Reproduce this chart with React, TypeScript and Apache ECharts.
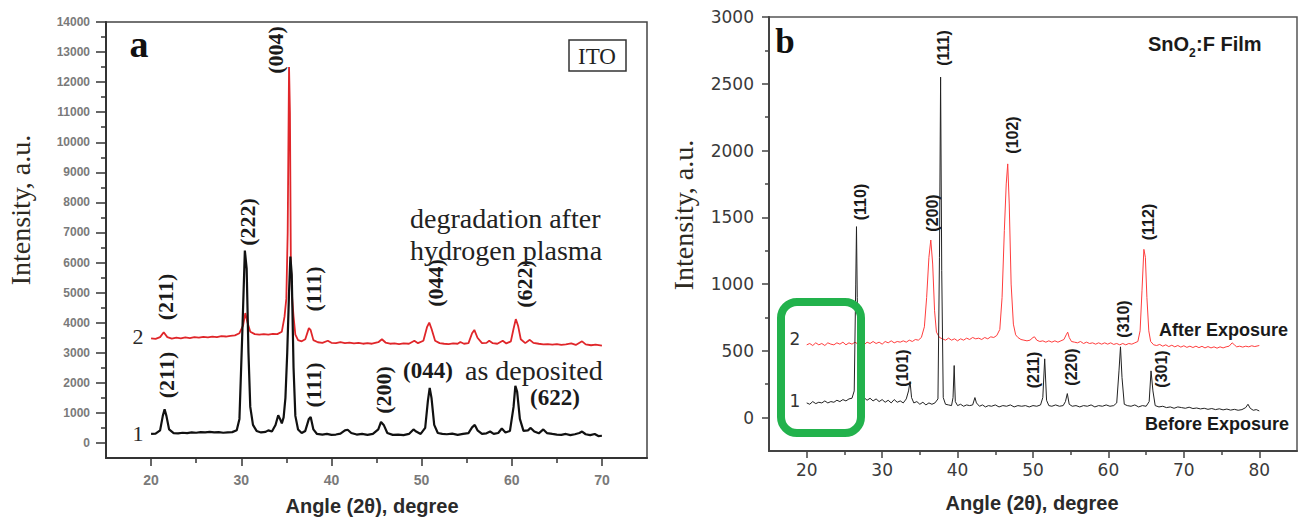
import React, { useEffect, useRef } from "react";
import * as echarts from "echarts";

// ---------- Panel a: ITO ----------
const itoAsDeposited: [number, number][] = [
  [20, 300], [20.5, 310], [21, 420], [21.3, 900], [21.5, 1120], [21.7, 900], [22, 450], [22.5, 330],
  [23, 320], [23.5, 340], [24, 330], [24.5, 350], [25, 340], [25.5, 360], [26, 350], [26.5, 370],
  [27, 350], [27.5, 360], [28, 340], [28.5, 350], [29, 360], [29.5, 420], [29.8, 800], [30.1, 3500],
  [30.4, 6400], [30.6, 5800], [30.8, 3000], [31, 1200], [31.3, 600], [31.7, 400], [32.2, 350], [32.7, 370],
  [33, 420], [33.4, 380], [33.8, 600], [34.1, 920], [34.3, 800], [34.5, 650], [34.7, 850], [34.9, 1500],
  [35.1, 3000], [35.3, 5000], [35.45, 6200], [35.6, 5600], [35.8, 2500], [36, 900], [36.3, 450], [36.7, 330],
  [37.1, 400], [37.5, 800], [37.7, 860], [38, 450], [38.4, 300], [39, 280], [39.5, 300], [40, 270],
  [40.5, 280], [41, 310], [41.5, 420], [41.8, 440], [42.2, 330], [42.8, 280], [43.4, 300], [44, 270],
  [44.6, 300], [45.2, 450], [45.5, 700], [45.8, 600], [46.2, 330], [46.8, 270], [47.4, 280], [48, 260],
  [48.6, 300], [49.1, 450], [49.4, 380], [49.9, 300], [50.4, 500], [50.7, 1400], [50.9, 1830], [51.1, 1500],
  [51.4, 600], [51.8, 330], [52.3, 300], [52.8, 290], [53.4, 310], [54, 270], [54.6, 300], [55.2, 330],
  [55.6, 520], [55.9, 600], [56.2, 420], [56.7, 300], [57.2, 320], [57.6, 380], [58, 300], [58.5, 330],
  [58.9, 480], [59.3, 350], [59.8, 400], [60.2, 1200], [60.4, 1900], [60.6, 1700], [60.9, 800], [61.3, 400],
  [61.8, 420], [62.1, 500], [62.5, 380], [63, 320], [63.5, 450], [63.9, 330], [64.5, 300], [65, 280],
  [65.5, 270], [66, 300], [66.5, 260], [67, 290], [67.5, 330], [67.8, 380], [68.2, 290], [68.7, 260],
  [69.2, 300], [69.6, 230], [70, 240],
];

const itoAfterPlasma: [number, number][] = [
  [20, 3480], [20.5, 3460], [21, 3520], [21.4, 3680], [21.8, 3520], [22.3, 3470], [22.8, 3500], [23.3, 3480],
  [23.8, 3510], [24.3, 3490], [24.8, 3520], [25.3, 3500], [25.8, 3530], [26.3, 3510], [26.8, 3540], [27.3, 3520],
  [27.8, 3550], [28.3, 3540], [28.8, 3560], [29.3, 3580], [29.8, 3650], [30.2, 3900], [30.45, 4320], [30.7, 4000],
  [31, 3700], [31.5, 3620], [32, 3600], [32.5, 3620], [33, 3600], [33.5, 3630], [34, 3620], [34.5, 3700],
  [34.8, 4200], [35, 4800], [35.15, 7000], [35.3, 12500], [35.4, 11000], [35.5, 6000], [35.65, 4800], [35.8, 4200],
  [36, 3600], [36.3, 3420], [36.7, 3380], [37.1, 3450], [37.5, 3820], [37.7, 3750], [38, 3420], [38.5, 3350],
  [39, 3330], [39.6, 3400], [40, 3330], [40.5, 3320], [41, 3350], [41.5, 3320], [42, 3340], [42.5, 3310],
  [43, 3330], [43.5, 3300], [44, 3320], [44.5, 3300], [45.2, 3350], [45.6, 3450], [46, 3340], [46.5, 3300],
  [47, 3310], [47.5, 3290], [48, 3310], [48.6, 3300], [49.2, 3400], [49.6, 3320], [50.2, 3400], [50.6, 3850],
  [50.85, 4000], [51.1, 3800], [51.5, 3400], [52, 3320], [52.5, 3300], [53, 3290], [53.5, 3310], [54, 3300],
  [54.3, 3360], [54.7, 3300], [55.2, 3320], [55.6, 3650], [55.85, 3760], [56.2, 3500], [56.7, 3320], [57.2, 3330],
  [57.5, 3400], [57.9, 3320], [58.4, 3300], [59, 3400], [59.4, 3310], [59.9, 3380], [60.2, 3800], [60.45, 4120],
  [60.7, 3900], [61, 3450], [61.5, 3320], [62, 3430], [62.4, 3330], [63, 3300], [63.5, 3280], [64, 3290],
  [64.5, 3270], [65, 3290], [65.5, 3260], [66, 3280], [66.6, 3310], [67.1, 3260], [67.8, 3380], [68.2, 3280],
  [68.8, 3250], [69.3, 3270], [70, 3240],
];

const itoXLabels = [20, 30, 40, 50, 60, 70];
const itoXMinor = [25, 35, 45, 55, 65];
const itoYLabels = [0, 1000, 2000, 3000, 4000, 5000, 6000, 7000, 8000, 9000, 10000, 11000, 12000, 13000, 14000];
const itoYMinor = [500, 1500, 2500, 3500, 4500, 5500, 6500, 7500, 8500, 9500, 10500, 11500, 12500, 13500];

// ---------- Panel b: SnO2:F ----------
const ftoBeforeExposure: [number, number][] = [
  [20, 110], [20.4, 100], [20.8, 120], [21.2, 105], [21.6, 115], [22, 110], [22.4, 125], [22.8, 110],
  [23.2, 120], [23.6, 115], [24, 130], [24.4, 120], [24.8, 135], [25.2, 125], [25.6, 140], [26, 145],
  [26.3, 200], [26.5, 1000], [26.6, 1430], [26.7, 900], [26.9, 200], [27.2, 140], [27.6, 150], [28, 130],
  [28.4, 145], [28.8, 125], [29.2, 140], [29.6, 120], [30, 135], [30.4, 115], [30.8, 130], [31.2, 110],
  [31.6, 135], [32, 115], [32.4, 125], [32.8, 110], [33.2, 140], [33.5, 200], [33.7, 270], [33.9, 150],
  [34.2, 110], [34.6, 120], [35, 100], [35.4, 115], [35.8, 95], [36.2, 110], [36.6, 100], [37, 110],
  [37.4, 140], [37.6, 1200], [37.75, 2550], [37.9, 1100], [38.1, 150], [38.4, 100], [38.8, 95], [39.2, 90],
  [39.4, 150], [39.55, 390], [39.7, 120], [40, 90], [40.4, 100], [40.8, 85], [41.2, 95], [41.6, 90],
  [42, 95], [42.3, 150], [42.5, 110], [42.9, 85], [43.3, 95], [43.7, 80], [44.1, 90], [44.5, 85],
  [45, 95], [45.5, 80], [46, 90], [46.5, 85], [47, 95], [47.5, 80], [48, 90], [48.5, 85],
  [49, 90], [49.5, 80], [50, 90], [50.5, 85], [51, 95], [51.3, 150], [51.55, 440], [51.8, 130],
  [52.1, 90], [52.5, 85], [53, 95], [53.5, 85], [54, 90], [54.3, 120], [54.55, 180], [54.8, 100],
  [55.2, 85], [55.7, 90], [56.2, 80], [56.7, 90], [57.2, 85], [57.7, 95], [58.2, 80], [58.7, 90],
  [59.2, 85], [59.7, 95], [60.2, 85], [60.7, 90], [61.1, 110], [61.4, 350], [61.6, 530], [61.8, 300],
  [62.1, 100], [62.5, 90], [63, 85], [63.5, 95], [64, 80], [64.5, 90], [65, 85], [65.4, 120],
  [65.65, 350], [65.9, 200], [66.2, 90], [66.7, 80], [67.2, 85], [67.7, 75], [68.2, 80], [68.7, 70],
  [69.2, 80], [69.7, 75], [70.2, 70], [70.7, 78], [71.2, 68], [71.7, 72], [72.2, 65], [72.7, 70],
  [73.2, 62], [73.7, 68], [74.2, 60], [74.7, 66], [75.2, 58], [75.7, 64], [76.2, 56], [76.7, 62],
  [77.2, 55], [77.7, 60], [78.2, 75], [78.5, 100], [78.8, 70], [79.2, 55], [79.6, 60], [80, 50],
];

const ftoAfterExposure: [number, number][] = [
  [20, 545], [20.4, 555], [20.8, 540], [21.2, 560], [21.6, 545], [22, 555], [22.4, 540], [22.8, 560],
  [23.2, 550], [23.6, 545], [24, 560], [24.4, 550], [24.8, 565], [25.2, 545], [25.6, 560], [26, 550],
  [26.4, 565], [26.8, 550], [27.2, 560], [27.6, 545], [28, 565], [28.4, 555], [28.8, 570], [29.2, 555],
  [29.6, 565], [30, 550], [30.4, 570], [30.8, 560], [31.2, 575], [31.6, 560], [32, 570], [32.4, 565],
  [32.8, 575], [33.2, 565], [33.6, 580], [34, 570], [34.4, 585], [34.8, 580], [35.2, 600], [35.6, 680],
  [35.9, 900], [36.2, 1200], [36.45, 1330], [36.7, 1150], [36.95, 800], [37.2, 640], [37.6, 600], [38, 590],
  [38.4, 580], [38.8, 595], [39.2, 580], [39.6, 590], [40, 575], [40.4, 590], [40.8, 580], [41.2, 595],
  [41.6, 585], [42, 600], [42.4, 590], [42.8, 595], [43.2, 585], [43.6, 600], [44, 590], [44.4, 605],
  [44.8, 600], [45.2, 615], [45.6, 660], [45.9, 900], [46.2, 1400], [46.45, 1750], [46.65, 1900], [46.85, 1600],
  [47.1, 1000], [47.4, 700], [47.7, 620], [48, 600], [48.4, 585], [48.8, 580], [49.2, 575], [49.6, 580],
  [50, 600], [50.2, 605], [50.5, 580], [50.9, 570], [51.3, 575], [51.7, 565], [52.1, 575], [52.5, 565],
  [52.9, 575], [53.3, 565], [53.7, 575], [54.1, 585], [54.4, 620], [54.6, 640], [54.8, 600], [55.1, 570],
  [55.5, 565], [55.9, 560], [56.3, 570], [56.7, 555], [57.1, 565], [57.5, 555], [57.9, 560], [58.3, 550],
  [58.7, 560], [59.1, 550], [59.5, 560], [59.9, 550], [60.3, 560], [60.7, 548], [61.1, 555], [61.5, 545],
  [61.9, 555], [62.3, 545], [62.7, 555], [63.1, 550], [63.5, 560], [63.9, 570], [64.2, 650], [64.45, 950],
  [64.7, 1260], [64.9, 1200], [65.1, 900], [65.35, 650], [65.6, 570], [66, 545], [66.4, 540], [66.8, 548],
  [67.2, 535], [67.6, 545], [68, 532], [68.4, 542], [68.8, 530], [69.2, 540], [69.6, 528], [70, 538],
  [70.4, 526], [70.8, 535], [71.2, 525], [71.6, 535], [72, 524], [72.4, 534], [72.8, 522], [73.2, 532],
  [73.6, 522], [74, 530], [74.4, 520], [74.8, 530], [75.2, 522], [75.6, 530], [76, 535], [76.4, 560],
  [76.7, 545], [77, 530], [77.4, 535], [77.8, 528], [78.2, 535], [78.6, 530], [79, 538], [79.4, 532], [80, 540],
];

const ftoXLabels = [20, 30, 40, 50, 60, 70, 80];
const ftoXMinor = [25, 35, 45, 55, 65, 75];
const ftoYLabels = [0, 500, 1000, 1500, 2000, 2500, 3000];
const ftoYMinor = [250, 750, 1250, 1750, 2250, 2750];

const SERIF = '"Liberation Serif", "Times New Roman", serif';
const SANS = '"Liberation Sans", Arial, sans-serif';
const DEJA = '"DejaVu Sans", sans-serif';

function txt(x: number, y: number, text: string, font: string, fill: string, align = "center", rot = 0): any {
  return {
    type: "text",
    x,
    y,
    rotation: rot,
    z: 100,
    silent: true,
    style: {
      text,
      x: 0,
      y: 0,
      font,
      fill,
      align,
      verticalAlign: "middle",
      textAlign: align,
      textVerticalAlign: "middle",
    },
  };
}

const R = Math.PI / 2;
const plain = (v: number) => String(v);

function axisPair(gridIndex: number, min: number, max: number, interval: number, major: number[], minor: number[], labelCfg: any, majorLen: number, minorLen: number, isX: boolean, lineColor: string) {
  const pos = isX ? "bottom" : "left";
  return [
    {
      type: "value",
      gridIndex,
      min,
      max,
      interval,
      position: pos,
      axisLine: { show: true, onZero: false, lineStyle: { color: lineColor, width: 2 } },
      axisTick: { show: true, inside: false, length: majorLen, customValues: major, lineStyle: { color: lineColor, width: 1.5 } },
      axisLabel: { show: true, customValues: major, formatter: plain, ...labelCfg },
      splitLine: { show: false },
      minorTick: { show: false },
    },
    {
      type: "value",
      gridIndex,
      min,
      max,
      interval,
      position: pos,
      axisLine: { show: false, onZero: false },
      axisTick: { show: true, inside: false, length: minorLen, customValues: minor, lineStyle: { color: lineColor, width: 1.5 } },
      axisLabel: { show: false },
      splitLine: { show: false },
    },
  ];
}

export default function App() {
  const ref = useRef<HTMLDivElement>(null);
  useEffect(() => {
    if (!ref.current) return;
    const chart = echarts.init(ref.current, null, { renderer: "svg" });

    const leftTickLabel = { fontSize: 12, fontWeight: "bold", color: "#7a7a7a", fontFamily: SANS };
    const leftXTickLabel = { fontSize: 14, fontWeight: "bold", color: "#7a7a7a", fontFamily: SANS, margin: 15 };
    const rightTickLabel = { fontSize: 17, color: "#3a3a3a", fontFamily: DEJA };

    const xAxes = [
      ...axisPair(0, 15, 75, 5, itoXLabels, itoXMinor, leftXTickLabel, 8, 5, true, "#333"),
      ...axisPair(1, 15, 85, 5, ftoXLabels, ftoXMinor, { ...rightTickLabel, margin: 10 }, 7, 4, true, "#444"),
    ];
    const yAxes = [
      ...axisPair(0, -500, 14000, 500, itoYLabels, itoYMinor, { ...leftTickLabel, margin: 16 }, 10, 5, false, "#333"),
      ...axisPair(1, -250, 3000, 250, ftoYLabels, ftoYMinor, { ...rightTickLabel, margin: 15 }, 7, 4, false, "#444"),
    ];

    const graphic: any[] = [
      // Panel a annotations
      txt(139, 44, "a", `bold 38px ${SERIF}`, "#111"),
      {
        type: "rect",
        z: 100,
        silent: true,
        shape: { x: 569, y: 40, width: 57, height: 31 },
        style: { fill: "#fff", stroke: "#333", lineWidth: 1.5 },
      },
      txt(597, 56, "ITO", `23px ${SERIF}`, "#222"),
      txt(20, 210, "Intensity, a.u.", `28px ${SERIF}`, "#2e2a22", "center", R),
      txt(372, 506, "Angle (2θ), degree", `bold 20px ${SANS}`, "#2a2a2a"),
      txt(165, 297, "(211)", `bold 22px ${SERIF}`, "#1a1a1a", "center", R),
      txt(166, 375, "(211)", `bold 22px ${SERIF}`, "#1a1a1a", "center", R),
      txt(247, 222, "(222)", `bold 22px ${SERIF}`, "#1a1a1a", "center", R),
      txt(275, 50, "(004)", `bold 22px ${SERIF}`, "#1a1a1a", "center", R),
      txt(313, 289, "(111)", `bold 22px ${SERIF}`, "#1a1a1a", "center", R),
      txt(313, 385, "(111)", `bold 22px ${SERIF}`, "#1a1a1a", "center", R),
      txt(383, 390, "(200)", `bold 22px ${SERIF}`, "#1a1a1a", "center", R),
      txt(435, 283, "(044)", `bold 22px ${SERIF}`, "#1a1a1a", "center", R),
      txt(524, 284, "(622)", `bold 22px ${SERIF}`, "#1a1a1a", "center", R),
      txt(428, 370, "(044)", `bold 23px ${SERIF}`, "#1a1a1a"),
      txt(555, 397, "(622)", `bold 23px ${SERIF}`, "#1a1a1a"),
      txt(465, 370, "as deposited", `28px ${SERIF}`, "#222", "left"),
      txt(410, 218, "degradation after", `28px ${SERIF}`, "#222", "left"),
      txt(410, 250, "hydrogen plasma", `28px ${SERIF}`, "#222", "left"),
      txt(138, 336, "2", `22px ${SERIF}`, "#2a2a2a"),
      txt(138, 433, "1", `22px ${SERIF}`, "#2a2a2a"),

      // Panel b annotations
      txt(785, 41, "b", `bold 35px ${SERIF}`, "#111"),
      txt(683, 215, "Intensity, a.u.", `28px ${SERIF}`, "#2e2a22", "center", R),
      txt(1032, 503, "Angle (2θ), degree", `bold 20px ${SANS}`, "#2a2a2a"),
      txt(1148, 44, "SnO", `bold 20px ${SANS}`, "#1a1a1a", "left"),
      txt(1189, 53, "2", `bold 12px ${SANS}`, "#1a1a1a", "left"),
      txt(1196, 44, ":F Film", `bold 20px ${SANS}`, "#1a1a1a", "left"),
      txt(943, 48, "(111)", `bold 16px ${SANS}`, "#1a1a1a", "center", R),
      txt(1012, 135, "(102)", `bold 16px ${SANS}`, "#1a1a1a", "center", R),
      txt(860, 202, "(110)", `bold 16px ${SANS}`, "#1a1a1a", "center", R),
      txt(932, 213, "(200)", `bold 16px ${SANS}`, "#1a1a1a", "center", R),
      txt(1148, 222, "(112)", `bold 16px ${SANS}`, "#1a1a1a", "center", R),
      txt(902, 368, "(101)", `bold 16px ${SANS}`, "#1a1a1a", "center", R),
      txt(1033, 370, "(211)", `bold 16px ${SANS}`, "#1a1a1a", "center", R),
      txt(1071, 367, "(220)", `bold 16px ${SANS}`, "#1a1a1a", "center", R),
      txt(1123, 319, "(310)", `bold 16px ${SANS}`, "#1a1a1a", "center", R),
      txt(1161, 369, "(301)", `bold 16px ${SANS}`, "#1a1a1a", "center", R),
      txt(1288, 330, "After Exposure", `bold 18px ${SANS}`, "#1a1a1a", "right"),
      txt(1289, 424, "Before Exposure", `bold 18px ${SANS}`, "#1a1a1a", "right"),
      txt(795, 339, "2", `17px ${DEJA}`, "#333"),
      txt(795, 401, "1", `17px ${DEJA}`, "#333"),
      {
        type: "rect",
        z: 120,
        silent: true,
        shape: { x: 781, y: 302, width: 80, height: 131, r: 16 },
        style: { fill: "none", stroke: "#22b24c", lineWidth: 8 },
      },
    ];

    const option: any = {
      animation: false,
      backgroundColor: "#ffffff",
      grid: [
        { left: 106, top: 22, width: 541, height: 436, show: true, borderColor: "#444", borderWidth: 1.5, backgroundColor: "transparent", containLabel: false, outerBoundsMode: "none" },
        { left: 769, top: 17, width: 528, height: 434, show: true, borderColor: "#555", borderWidth: 1.5, backgroundColor: "transparent", containLabel: false, outerBoundsMode: "none" },
      ],
      xAxis: xAxes,
      yAxis: yAxes,
      series: [
        { type: "line", xAxisIndex: 0, yAxisIndex: 0, data: itoAfterPlasma, symbol: "none", showSymbol: false, silent: true, lineStyle: { color: "#e0262a", width: 1.8 }, z: 2 },
        { type: "line", xAxisIndex: 0, yAxisIndex: 0, data: itoAsDeposited, symbol: "none", showSymbol: false, silent: true, lineStyle: { color: "#111", width: 2.2 }, z: 3 },
        { type: "line", xAxisIndex: 2, yAxisIndex: 2, data: ftoAfterExposure, symbol: "none", showSymbol: false, silent: true, lineStyle: { color: "#ff3d3d", width: 1 }, z: 2 },
        { type: "line", xAxisIndex: 2, yAxisIndex: 2, data: ftoBeforeExposure, symbol: "none", showSymbol: false, silent: true, lineStyle: { color: "#222", width: 1 }, z: 3 },
      ],
      graphic,
    };
    chart.setOption(option);
    return () => chart.dispose();
  }, []);
  return (
    <div
      ref={ref}
      style={{ position: "absolute", left: 0, top: 0, width: 1301, height: 523, background: "#fff" }}
    />
  );
}
